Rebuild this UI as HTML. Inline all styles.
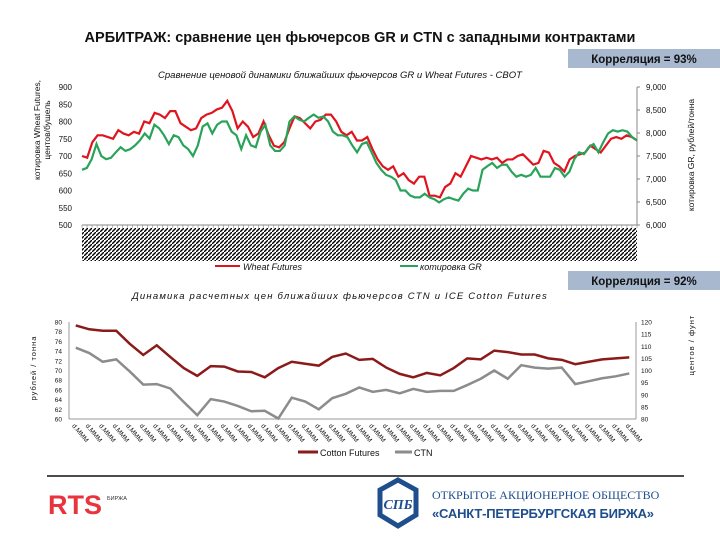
<!DOCTYPE html>
<html><head><meta charset="utf-8">
<style>
body{margin:0;width:720px;height:540px;background:#fff;overflow:hidden;font-family:"Liberation Sans",sans-serif}
svg{display:block}
</style></head>
<body>
<svg id="s" width="720" height="540" xmlns="http://www.w3.org/2000/svg">
<defs>
<pattern id="hatch" width="4" height="4" patternUnits="userSpaceOnUse"><path d="M0,4 L4,0" stroke="#000" stroke-width="1.4"/></pattern>
</defs>
<text x="360" y="42" text-anchor="middle" font-size="14.5" font-weight="bold" fill="#111">АРБИТРАЖ: сравнение цен фьючерсов GR и CTN с западными контрактами</text>
<rect x="568" y="49" width="152" height="19" fill="#a7b8cf"/>
<text x="644" y="63" text-anchor="middle" font-size="11.5" font-weight="bold" fill="#111">Корреляция = 93%</text>
<rect x="568" y="271" width="152" height="19" fill="#a7b8cf"/>
<text x="644" y="285" text-anchor="middle" font-size="11.5" font-weight="bold" fill="#111">Корреляция = 92%</text>
<text x="340" y="78" text-anchor="middle" font-size="9.5" font-style="italic" fill="#111">Сравнение ценовой динамики ближайших фьючерсов GR и Wheat Futures - CBOT</text>
<text transform="translate(40,130) rotate(-90)" text-anchor="middle" font-size="8.5" fill="#111"><tspan x="0" dy="0">котировка Wheat Futures,</tspan><tspan x="0" dy="10">центов/бушель</tspan></text>
<text transform="translate(694,155) rotate(-90)" text-anchor="middle" font-size="8.5" fill="#111">котировка GR, рублей/тонна</text>
<rect x="82" y="228" width="555" height="33" fill="url(#hatch)"/>
<g id="top"></g>
<line x1="215" y1="266" x2="240" y2="266" stroke="#e0141e" stroke-width="2"/>
<text x="243" y="270" font-size="9" font-style="italic" fill="#111">Wheat Futures</text>
<line x1="400" y1="266" x2="418" y2="266" stroke="#2aa35a" stroke-width="2"/>
<text x="420" y="270" font-size="9" font-style="italic" fill="#111">котировка GR</text>
<text x="340" y="299" text-anchor="middle" font-size="9.5" font-style="italic" fill="#111" letter-spacing="1.2">Динамика расчетных цен ближайших фьючерсов  CTN и ICE Cotton  Futures</text>
<text transform="translate(36,368) rotate(-90)" text-anchor="middle" font-size="7.5" fill="#111" letter-spacing="1">рублей / тонна</text>
<text transform="translate(694,345) rotate(-90)" text-anchor="middle" font-size="7.5" fill="#111" letter-spacing="1">центов / фунт</text>
<g id="bot"></g>
<line x1="298" y1="452" x2="318" y2="452" stroke="#8b1a1a" stroke-width="3"/>
<text x="320" y="456" font-size="9" fill="#111">Cotton Futures</text>
<line x1="395" y1="452" x2="412" y2="452" stroke="#8c8c8c" stroke-width="3"/>
<text x="414" y="456" font-size="9" fill="#111">CTN</text>
<line x1="47" y1="476" x2="684" y2="476" stroke="#111" stroke-width="1.5"/>
<text x="48" y="514" font-size="27" font-weight="bold" fill="#e8353d">RTS</text>
<text x="107" y="500" font-size="5.5" fill="#333">БИРЖА</text>
<polygon points="398,480 416,490 416,515 398,526 380,515 380,490" fill="none" stroke="#1f4e8c" stroke-width="5"/>
<text x="398" y="509" text-anchor="middle" font-size="14" font-style="italic" font-weight="bold" font-family="Liberation Serif,serif" fill="#1f4e8c">СПБ</text>
<text x="432" y="499" font-size="12" font-family="Liberation Serif,serif" fill="#1f4e8c">ОТКРЫТОЕ АКЦИОНЕРНОЕ ОБЩЕСТВО</text>
<text x="432" y="518" font-size="13" font-weight="bold" fill="#1f4e8c" textLength="222">«САНКТ-ПЕТЕРБУРГСКАЯ БИРЖА»</text>
</svg>
<script>
const wheatValues=[700,695,740,760,760,755,750,775,765,760,770,765,800,795,825,820,810,830,830,795,785,775,780,810,820,825,835,840,860,830,780,800,785,755,765,800,760,730,725,740,780,815,810,795,780,800,805,820,820,800,770,760,770,745,745,755,720,690,670,660,670,640,650,630,620,640,640,585,585,580,610,620,650,640,670,700,695,690,695,690,695,680,690,690,700,705,690,675,680,715,710,680,670,655,690,700,705,710,730,720,710,730,750,755,750,760,755,745];
const grValues=[7200,7240,7430,7760,7500,7430,7460,7580,7690,7610,7650,7730,7840,7990,7880,8180,8100,7950,7760,7950,7910,7730,7650,7500,7730,8140,8210,7990,8180,8250,8250,8030,7950,7650,7950,7730,7690,8030,8180,7730,7610,7610,7730,8250,8360,8290,8250,8330,8400,8330,8360,8250,8030,7950,7950,7910,7730,7580,7760,7800,7580,7350,7200,7090,7050,6980,6750,6750,6640,6600,6600,6680,6600,6560,6490,6560,6600,6560,6530,6680,6790,6750,6750,7200,7280,7350,7240,7310,7310,7160,7050,7090,7050,7090,7240,7050,7050,7050,7240,7200,7050,7160,7430,7580,7540,7690,7760,7580,7800,7990,8060,8030,8060,8030,7910,7840];
const topLeftTicks=[500,550,600,650,700,750,800,850,900];
const topRightTicks=[6000,6500,7000,7500,8000,8500,9000];
const cottonValues=[118.6,117,116.4,116.4,111,106.4,110.4,105.6,101,97.8,101.8,101.6,99.6,99.4,97.2,101,103.6,102.8,102,105.6,107,104.4,104.8,101.2,98.6,97.2,99,98,101,105,104.6,108.2,107.6,106.6,106.6,105,104.4,102.6,103.6,104.6,105,105.4];
const ctnValues=[74.7,73.6,71.8,72.3,69.8,67.1,67.2,66.3,63.5,60.8,64.1,63.6,62.7,61.6,61.7,60.1,64.4,63.6,62.0,64.3,65.2,66.5,65.6,66.0,65.3,66.2,65.6,65.8,65.8,67.0,68.3,70.0,68.3,71.1,70.6,70.4,70.6,67.2,67.8,68.4,68.8,69.4];
const botLeftTicks=[60,62,64,66,68,70,72,74,76,78,80];
const botRightTicks=[80,85,90,95,100,105,110,115,120];
const botCategories=cottonValues.map(()=> 'd.MMM');

const NS='http://www.w3.org/2000/svg';
function mk(t,a,p){const e=document.createElementNS(NS,t);for(const k in a)e.setAttribute(k,a[k]);p.appendChild(e);return e;}
// top chart
const T=document.getElementById('top');
const tL=82,tR=637,tTop=87,tBot=225;
const tyL=v=>tBot-(v-500)/400*(tBot-tTop);
const tyR=v=>tBot-(v-6000)/3000*(tBot-tTop);
const txi=(i,n)=>tL+i/(n-1)*(tR-tL);
let ax=mk('line',{x1:tL,y1:tBot,x2:tR,y2:tBot,stroke:'#888'},T);

for(let i=0;i<=110;i++){const x=tL+i/110*(tR-tL);mk('line',{x1:x,y1:tBot,x2:x,y2:tBot+3,stroke:'#888','stroke-width':0.6},T);}
let ay=mk('line',{x1:tR,y1:tTop,x2:tR,y2:tBot,stroke:'#888'},T);

topLeftTicks.forEach(v=>{const t=mk('text',{x:72,y:tyL(v)+3,'text-anchor':'end','font-size':8,fill:'#111'},T);t.textContent=v;
});
topRightTicks.forEach(v=>{mk('line',{x1:tR,y1:tyR(v),x2:tR+3,y2:tyR(v),stroke:'#888'},T);const t=mk('text',{x:646,y:tyR(v)+3,'font-size':8,fill:'#111'},T);t.textContent=v.toLocaleString('en-US');
});
let p1=mk('polyline',{points:wheatValues.map((v,i)=>txi(i,wheatValues.length)+','+tyL(v)).join(' '),fill:'none',stroke:'#e0141e','stroke-width':2.2},T);

let p2=mk('polyline',{points:grValues.map((v,i)=>txi(i,grValues.length)+','+tyR(v)).join(' '),fill:'none',stroke:'#2aa35a','stroke-width':2.2},T);

// bottom chart
const B=document.getElementById('bot');
const bL=69,bR=636,bTop=322,bBot=419;
const byL=v=>bBot-(v-60)/20*(bBot-bTop);
const byR=v=>bBot-(v-80)/40*(bBot-bTop);
const bx=i=>bL+(i+0.5)/botCategories.length*(bR-bL);
let bax=mk('line',{x1:bL,y1:bBot,x2:bR,y2:bBot,stroke:'#999'},B);

let bayl=mk('line',{x1:bL,y1:bTop,x2:bL,y2:bBot,stroke:'#999'},B);

let bayr=mk('line',{x1:bR,y1:bTop,x2:bR,y2:bBot,stroke:'#999'},B);

botLeftTicks.forEach(v=>{const t=mk('text',{x:62,y:byL(v)+2.5,'text-anchor':'end','font-size':6.5,fill:'#111'},B);t.textContent=v;
});
botRightTicks.forEach(v=>{const t=mk('text',{x:641,y:byR(v)+2.5,'font-size':6.5,fill:'#111'},B);t.textContent=v;
});
botCategories.forEach((c,i)=>{const x=bx(i);const t=mk('text',{x:x-4,y:bBot+7,'font-size':6.5,fill:'#111',transform:`rotate(50 ${x-4} ${bBot+7})`},B);t.textContent=c;
});
let p3=mk('polyline',{points:ctnValues.map((v,i)=>bx(i)+','+byL(v)).join(' '),fill:'none',stroke:'#8c8c8c','stroke-width':2.5},B);

let p4=mk('polyline',{points:cottonValues.map((v,i)=>bx(i)+','+byR(v)).join(' '),fill:'none',stroke:'#8b1a1a','stroke-width':2.5},B);

</script>
</body></html>
